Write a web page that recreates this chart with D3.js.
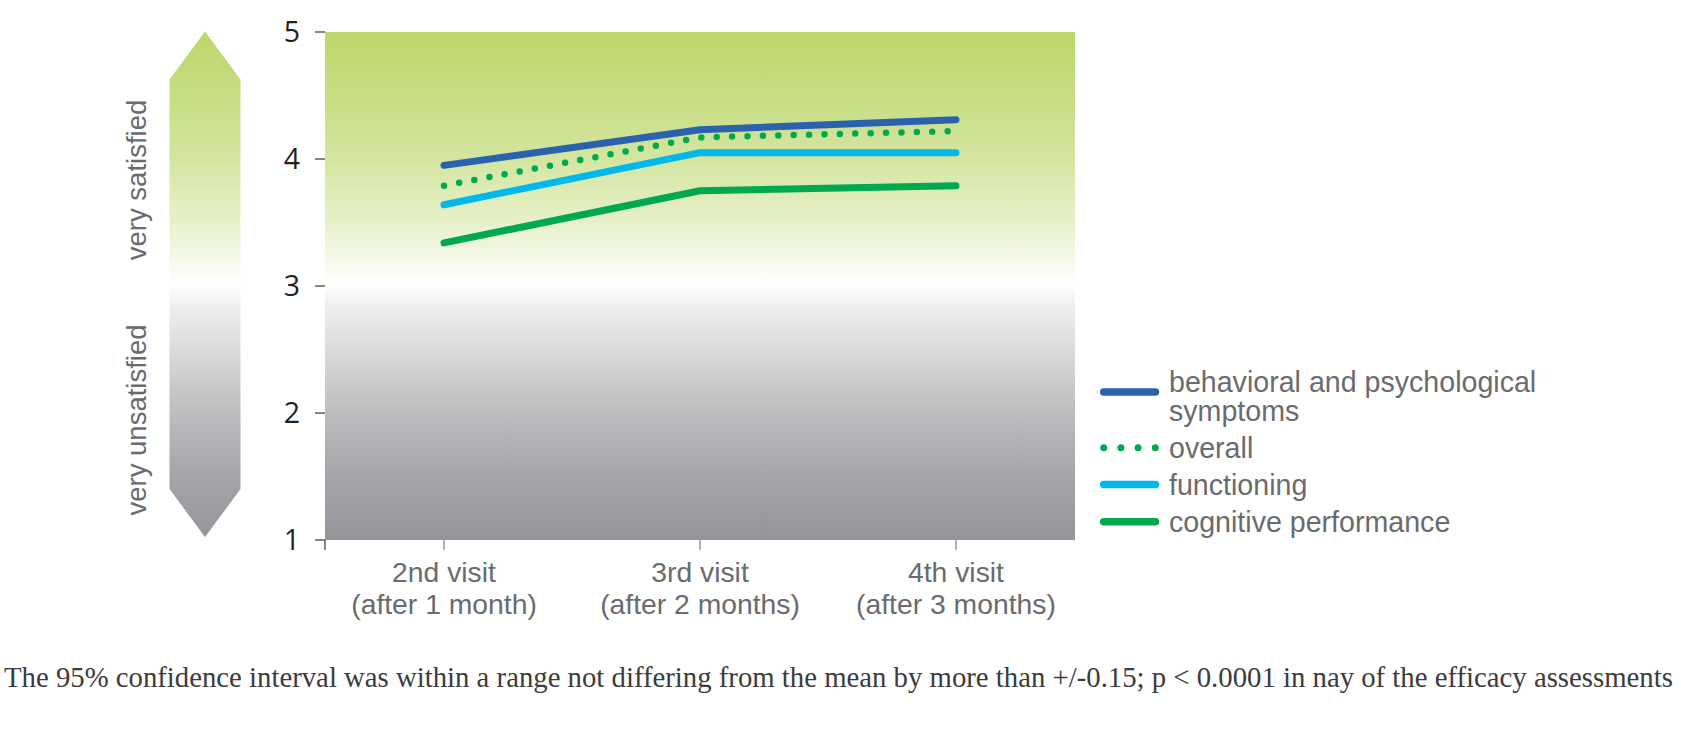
<!DOCTYPE html>
<html><head><meta charset="utf-8">
<script src="https://cdn.jsdelivr.net/npm/d3@7/dist/d3.min.js"></script>
<style>
html,body{margin:0;padding:0;background:#fff;}
svg{display:block;}
</style></head>
<body>
<svg id="chart" width="1681" height="734"></svg>
<script>
const visits = ["2nd visit|(after 1 month)", "3rd visit|(after 2 months)", "4th visit|(after 3 months)"];
const seriesNames = ["behavioral and psychological|symptoms", "overall", "functioning", "cognitive performance"];
const behavioral = [3.95, 4.23, 4.31];
const overall = [3.79, 4.17, 4.22];
const functioning = [3.64, 4.05, 4.05];
const cognitive = [3.34, 3.75, 3.79];
const yTicks = [1, 2, 3, 4, 5];
const sideLabels = ["very satisfied", "very unsatisfied"];
const caption = "The 95% confidence interval was within a range not differing from the mean by more than +/-0.15; p < 0.0001 in nay of the efficacy assessments";

(function () {
const series = [
  {name: seriesNames[0], values: behavioral, color: "#2a62ad", dotted: false},
  {name: seriesNames[1], values: overall, color: "#00a84f", dotted: true},
  {name: seriesNames[2], values: functioning, color: "#00b9ea", dotted: false},
  {name: seriesNames[3], values: cognitive, color: "#00a84f", dotted: false}
];
const drawOrder = [3, 2, 1, 0];

const svg = d3.select("#chart");
const plot = {left: 325, right: 1075, top: 32, bottom: 540};

const x = d3.scalePoint().domain(visits).range([plot.left, plot.right]).padding(0.465);
const y = d3.scaleLinear().domain([1, 5]).range([plot.bottom, plot.top]);

const defs = svg.append("defs");
const grad = defs.append("linearGradient").attr("id", "bg")
  .attr("gradientUnits", "userSpaceOnUse")
  .attr("x1", 0).attr("x2", 0).attr("y1", y(5)).attr("y2", y(1));
const stops = [
  [5, "#bcd76b"], [4.5, "#c6dd82"], [4, "#d4e5a0"], [3.5, "#e7f1ca"],
  [3.15, "#f8fbef"], [3, "#ffffff"], [2.85, "#efeff0"], [2.5, "#dadbdc"],
  [2, "#bcbdbf"], [1.5, "#a4a5a8"], [1, "#939598"]
];
stops.forEach(([v, c]) => grad.append("stop")
  .attr("offset", (y(v) - y(5)) / (y(1) - y(5))).attr("stop-color", c));

svg.append("rect")
  .attr("x", plot.left).attr("y", y(5))
  .attr("width", plot.right - plot.left).attr("height", y(1) - y(5))
  .attr("fill", "url(#bg)");

const ax = 205, aw = 35.5, aTop = y(5) - 0.5, aBot = y(1) - 3;
svg.append("polygon")
  .attr("points", [[ax, aTop], [ax + aw, aTop + 48], [ax + aw, aBot - 48], [ax, aBot], [ax - aw, aBot - 48], [ax - aw, aTop + 48]].map(p => p.join(",")).join(" "))
  .attr("fill", "url(#bg)");

const sideFont = "'Liberation Sans', Arial, Helvetica, sans-serif";
const grey = "#6a6b6e";
[[sideLabels[0], 180], [sideLabels[1], 420]].forEach(([t, cy]) => {
  svg.append("text")
    .attr("transform", `translate(146,${cy}) rotate(-90)`)
    .attr("text-anchor", "middle")
    .attr("font-family", sideFont).attr("font-size", 27.5)
    .attr("fill", grey).text(t);
});

const yAxisG = svg.append("g");
yTicks.forEach(v => {
  yAxisG.append("line").attr("x1", plot.left - 10).attr("x2", plot.left)
    .attr("y1", y(v)).attr("y2", y(v)).attr("stroke", "#444").attr("stroke-width", 1.3);
  yAxisG.append("text").attr("x", 300).attr("y", y(v))
    .attr("dy", "0.36em").attr("text-anchor", "end")
    .attr("font-family", "'Open Sans', 'Noto Sans', sans-serif").attr("font-size", 28.5)
    .attr("fill", "#231f20").text(v);
});

svg.append("line").attr("x1", plot.left).attr("x2", plot.left)
  .attr("y1", plot.bottom).attr("y2", plot.bottom + 10).attr("stroke", "#444").attr("stroke-width", 1.3);
visits.forEach(v => {
  svg.append("line").attr("x1", x(v)).attr("x2", x(v))
    .attr("y1", plot.bottom).attr("y2", plot.bottom + 10).attr("stroke", "#888").attr("stroke-width", 1.3);
  v.split("|").forEach((l, i) => {
    svg.append("text").attr("x", x(v)).attr("y", 582 + i * 31.5)
      .attr("text-anchor", "middle")
      .attr("font-family", sideFont).attr("font-size", 28.3)
      .attr("fill", grey).text(l);
  });
});

const line = d3.line().x((d, i) => x(visits[i])).y(d => y(d));
drawOrder.forEach(k => {
  const s = series[k];
  const p = svg.append("path").attr("d", line(s.values))
    .attr("fill", "none").attr("stroke", s.color)
    .attr("stroke-linecap", "round").attr("stroke-linejoin", "round");
  if (s.dotted) p.attr("stroke-width", 6.5).attr("stroke-dasharray", "0 15.4");
  else p.attr("stroke-width", 7);
});

const legY = [392, 447.7, 484.5, 521.7];
const legTextY = [[381.5, 411], [447.7], [484.5], [521.7]];
series.forEach((s, i) => {
  const l = svg.append("line").attr("x1", 1103.7).attr("x2", 1155.5)
    .attr("y1", legY[i]).attr("y2", legY[i]).attr("stroke", s.color)
    .attr("stroke-linecap", "round");
  if (s.dotted) l.attr("stroke-width", 7).attr("stroke-dasharray", "0 17.2");
  else l.attr("stroke-width", 7.5);
  s.name.split("|").forEach((t, j) => {
    svg.append("text").attr("x", 1169).attr("y", legTextY[i][j])
      .attr("dy", "0.35em")
      .attr("font-family", sideFont).attr("font-size", 28.6)
      .attr("fill", grey).text(t);
  });
});

const cap = svg.append("text").attr("x", 4).attr("y", 687)
  .attr("font-family", "'Liberation Serif', 'Times New Roman', serif")
  .attr("font-size", 26).attr("fill", "#3c3c3c").text(caption);
const w = cap.node().getComputedTextLength();
cap.attr("font-size", 26 * 1670 / w);
})();
</script>
</body></html>
